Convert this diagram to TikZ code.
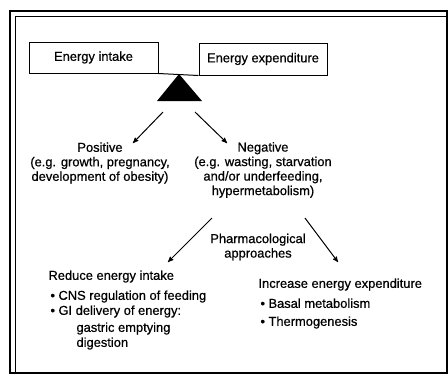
\documentclass[tikz,border=0pt]{standalone}
\usepackage{fontspec}
\setmainfont{Liberation Sans}[FakeBold=0.6]
\usetikzlibrary{arrows,positioning}

\begin{document}
\begin{tikzpicture}[x=1pt,y=-1pt,>=stealth',line width=1pt,
				every node/.style={font=\fontsize{12.9}{14.5}\selectfont},
				scale box/.style={draw,minimum height=31pt,inner sep=0pt},
				caption/.style={align=center,inner sep=0pt},
				list/.style={align=left,inner sep=0pt,anchor=north west}]
				
				\useasboundingbox (0,0) rectangle (448,376);
				
				% double frame
				\draw[line width=2.2pt] (10,11) rectangle (447,373);
				\draw[semithick] (15,373) -- (15,16) -- (447,16);
				
				% the balance
				\node[scale box,minimum width=129pt] (intake) at (93.5,57.5) {Energy intake};
				\node[scale box,minimum width=128pt,minimum height=32pt] (expend) at (263,59) {Energy expenditure};
				\draw (intake.south east) -- (expend.south west);
				\coordinate (pivot) at (179,74);
				\fill (pivot) -- (202,101) -- (157,101) -- cycle;
				
				% balance outcomes
				\node[caption] (positive) at (100,163) {Positive\\(e.g. growth, pregnancy,\\development of obesity)};
				\node[caption] (negative) at (263,170) {Negative\\(e.g. wasting, starvation\\and/or underfeeding,\\hypermetabolism)};
				\node[caption] (pharma) at (258,247) {Pharmacological\\approaches};
				
				\node[list] (reduce) at (48,270) {Reduce energy intake\\[5.5pt]
					\hspace*{2pt}\textbullet\hspace{3.5pt}CNS regulation of feeding\\[0.5pt]
					\hspace*{2pt}\textbullet\hspace{3.5pt}GI delivery of energy:\\[2.5pt]
					\hspace*{28pt}gastric emptying\\[0.5pt]
					\hspace*{28pt}digestion};
				\node[list] (increase) at (258,278) {Increase energy expenditure\\[5.5pt]
					\hspace*{2pt}\textbullet\hspace{3.5pt}Basal metabolism\\[3.5pt]
					\hspace*{2pt}\textbullet\hspace{3.5pt}Thermogenesis};
				
				% arrow ends
				\coordinate (pos from) at (163,112);
				\coordinate (pos to) at (133,143);
				\coordinate (neg from) at (195,112);
				\coordinate (neg to) at (227,143);
				\coordinate (red from) at (212,218);
				\coordinate (red to) at (168,262);
				\coordinate (inc from) at (305,218);
				\coordinate (inc to) at (338,262);
				
				\path[->]
				(pos from) edge (pos to)
				(neg from) edge (neg to)
				(red from) edge (red to)
				(inc from) edge (inc to);
				
				\end{tikzpicture}
\end{document}
